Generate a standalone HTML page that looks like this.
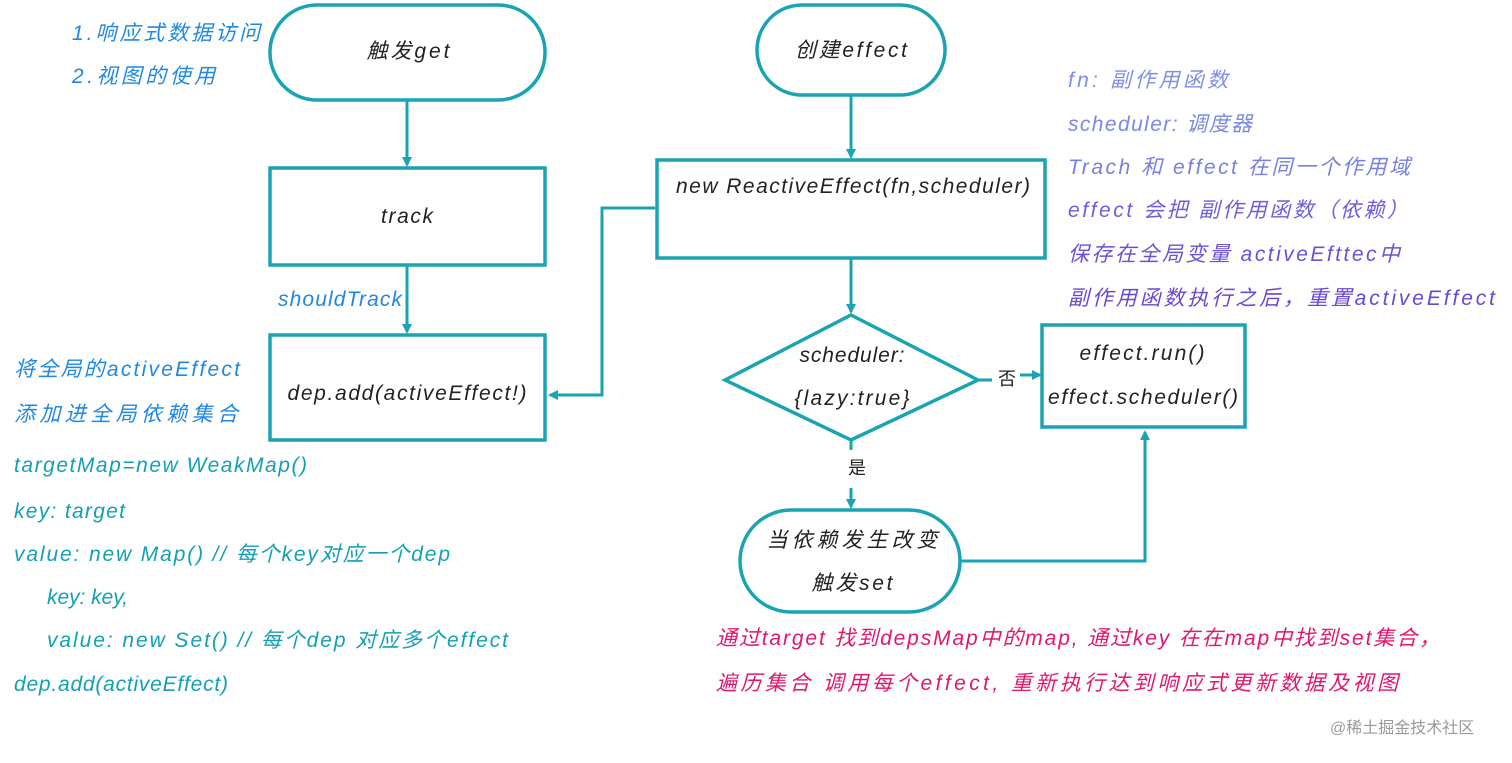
<!DOCTYPE html>
<html><head><meta charset="utf-8"><style>
html,body{margin:0;padding:0;background:#fff;}
svg text{font-family:"Liberation Sans","Noto Sans CJK SC",sans-serif;font-style:italic;font-size:21px;}
</style></head><body>
<svg width="1512" height="758" viewBox="0 0 1512 758" xmlns="http://www.w3.org/2000/svg">
<defs>
<marker id="ah" markerWidth="10" markerHeight="10" refX="8" refY="5" orient="auto" markerUnits="userSpaceOnUse">
<path d="M0,0 L10,5 L0,10 z" fill="#1aa3b3"/></marker>
</defs>
<g fill="none" stroke="#1aa3b3" stroke-width="3.5">
<rect x="270" y="5" width="275" height="95" rx="47"/>
<rect x="270" y="168" width="275" height="97"/>
<rect x="270" y="335" width="275" height="105"/>
<rect x="757" y="5" width="188" height="90" rx="45"/>
<rect x="657" y="160" width="388" height="98"/>
<path d="M851,315 L978,380 L851,440 L725,380 Z"/>
<rect x="1042" y="325" width="203" height="102"/>
<rect x="740" y="510" width="220" height="102" rx="51"/>
<g stroke-width="3">
<line x1="407" y1="100" x2="407" y2="165" marker-end="url(#ah)"/>
<line x1="407" y1="265" x2="407" y2="332" marker-end="url(#ah)"/>
<line x1="851" y1="95" x2="851" y2="157" marker-end="url(#ah)"/>
<line x1="851" y1="258" x2="851" y2="312" marker-end="url(#ah)"/>
<path d="M655,208 L602,208 L602,395 L550,395" marker-end="url(#ah)"/>
<line x1="978" y1="380" x2="992" y2="380"/>
<line x1="1020" y1="375" x2="1040" y2="375" marker-end="url(#ah)"/>
<line x1="851" y1="440" x2="851" y2="450"/>
<line x1="851" y1="488" x2="851" y2="507" marker-end="url(#ah)"/>
<path d="M960,561 L1145,561 L1145,432" marker-end="url(#ah)"/>
</g>
</g>
<g fill="#222" text-anchor="middle" lengthAdjust="spacingAndGlyphs">
<text x="408" y="58" textLength="83">触发get</text>
<text x="407" y="223" textLength="52">track</text>
<text x="407" y="400" textLength="239">dep.add(activeEffect!)</text>
<text x="851" y="57" textLength="112">创建effect</text>
<text x="853" y="193" textLength="354">new ReactiveEffect(fn,scheduler)</text>
<text x="852" y="362" textLength="105">scheduler:</text>
<text x="852" y="405" textLength="115">{lazy:true}</text>
<text x="1007" y="385" style="font-style:normal;font-size:18px">否</text>
<text x="857" y="474" style="font-style:normal;font-size:18px">是</text>
<text x="1142" y="360" textLength="125">effect.run()</text>
<text x="1143" y="404" textLength="190">effect.scheduler()</text>
<text x="852" y="547" textLength="171">当依赖发生改变</text>
<text x="852" y="590" textLength="81">触发set</text>
</g>
<g fill="#1e88e5">
<text x="72" y="40" textLength="188">1.响应式数据访问</text>
<text x="72" y="83" textLength="143">2.视图的使用</text>
<text x="278" y="306" textLength="124">shouldTrack</text>
<text x="14" y="376" textLength="226">将全局的activeEffect</text>
<text x="14" y="421" textLength="224">添加进全局依赖集合</text>
</g>
<g fill="#13a0b5">
<text x="14" y="472" textLength="293">targetMap=new WeakMap()</text>
<text x="14" y="518" textLength="111">key: target</text>
<text x="14" y="561" textLength="436">value: new Map() // 每个key对应一个dep</text>
<text x="47" y="604" textLength="81">key: key,</text>
<text x="47" y="647" textLength="461">value: new Set() // 每个dep 对应多个effect</text>
<text x="14" y="691" textLength="214">dep.add(activeEffect)</text>
</g>
<g>
<text x="1068" y="87" fill="#7f8fe6" textLength="160">fn: 副作用函数</text>
<text x="1068" y="131" fill="#7a88e4" textLength="184">scheduler: 调度器</text>
<text x="1068" y="174" fill="#7580e2" textLength="342">Trach 和 effect 在同一个作用域</text>
<text x="1068" y="217" fill="#6d5fdc" textLength="340">effect 会把 副作用函数（依赖）</text>
<text x="1068" y="261" fill="#6a50da" textLength="332">保存在全局变量 activeEfttec中</text>
<text x="1068" y="305" fill="#6848d8" textLength="427">副作用函数执行之后，重置activeEffect</text>
</g>
<g fill="#e0176e">
<text x="716" y="645" textLength="724">通过target 找到depsMap中的map, 通过key 在在map中找到set集合，</text>
<text x="716" y="690" textLength="682">遍历集合 调用每个effect, 重新执行达到响应式更新数据及视图</text>
</g>
<text x="1330" y="733" fill="#999" style="font-style:normal;font-size:16px">@稀土掘金技术社区</text>
</svg>
</body></html>
